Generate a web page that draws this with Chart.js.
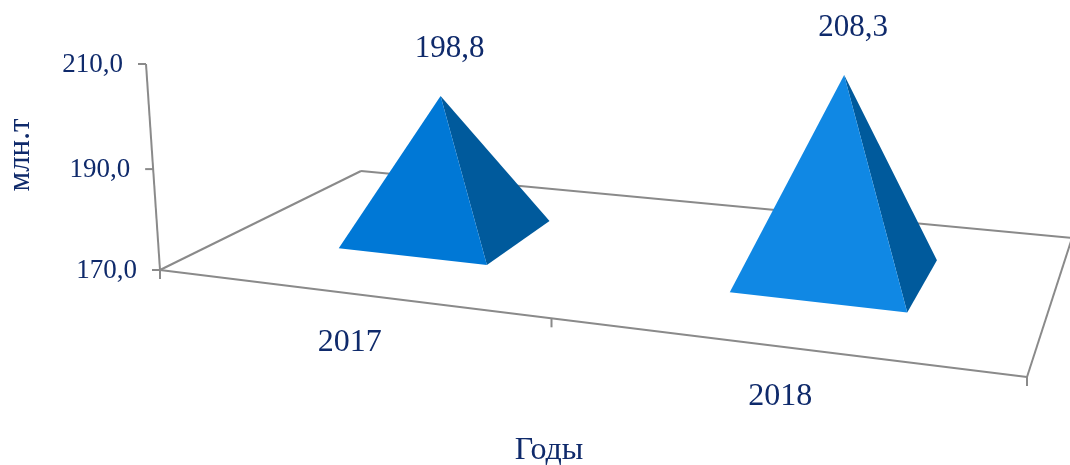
<!DOCTYPE html>
<html>
<head>
<meta charset="utf-8">
<style>
  html, body { margin: 0; padding: 0; background: #fff; }
  canvas { display: block; }
</style>
<script src="https://cdn.jsdelivr.net/npm/chart.js@4"></script>
</head>
<body>
<canvas id="chart" width="1070" height="465"></canvas>
<script>
const categories = ['2017', '2018'];
const values = [198.8, 208.3];
const axisMin = 170;
const axisMax = 210;
const axisStep = 20;
const yTitle = 'млн.т';
const xTitle = 'Годы';

const frontColors = ['#0078d6', '#1088e4'];
const sideColor = '#005a9c';
const textColor = '#0f2a6b';
const lineColor = '#8a8a8a';
const fontName = '"Liberation Serif", "Times New Roman", serif';

/* ---------------- Perspective of the 3D box ---------------- */
// screen corners of the floor and the top of the vertical axis
const floor = { p00: [160, 270], p10: [1027, 377], p11: [1072, 238], p01: [361, 171] };
const axisTop = [146, 64];
const lift = -0.04;       // how much the top shrinks towards the viewer
const baseShift = 0.0068; // the pyramid bases sit a bit right of their apex

function buildProjection() {
  const { p00, p10, p11, p01 } = floor;
  const dx1 = p10[0] - p11[0], dx2 = p01[0] - p11[0], sx = p00[0] - p10[0] + p11[0] - p01[0];
  const dy1 = p10[1] - p11[1], dy2 = p01[1] - p11[1], sy = p00[1] - p10[1] + p11[1] - p01[1];
  const den = dx1 * dy2 - dx2 * dy1;
  const g = (sx * dy2 - dx2 * sy) / den;
  const h = (dx1 * sy - sx * dy1) / den;
  const px = axisTop[0] * (1 + lift) - p00[0];
  const py = axisTop[1] * (1 + lift) - p00[1];
  // u along the x axis, v into the depth, z up, all from 0 to 1
  return (u, v, z) => {
    const w = 1 + g * u + h * v + lift * z;
    return [
      ((p10[0] - p00[0] + g * p10[0]) * u + (p01[0] - p00[0] + h * p01[0]) * v + p00[0] + px * z) / w,
      ((p10[1] - p00[1] + g * p10[1]) * u + (p01[1] - p00[1] + h * p01[1]) * v + p00[1] + py * z) / w
    ];
  };
}
const project = buildProjection();

function segment(ctx, a, b) {
  ctx.beginPath();
  ctx.moveTo(a[0], a[1]);
  ctx.lineTo(b[0], b[1]);
  ctx.stroke();
}

function face(ctx, color, points) {
  ctx.fillStyle = color;
  ctx.beginPath();
  points.forEach((p, i) => i ? ctx.lineTo(p[0], p[1]) : ctx.moveTo(p[0], p[1]));
  ctx.closePath();
  ctx.fill();
}

function label(ctx, text, x, y, size, align) {
  ctx.font = size + 'px ' + fontName;
  ctx.fillStyle = textColor;
  ctx.textAlign = align || 'center';
  ctx.textBaseline = 'middle';
  ctx.fillText(text, x, y);
}

const comma = v => v.toFixed(1).replace('.', ',');

/* ---------------- Draws axes and pyramids from the chart scales ---------------- */
const box3d = {
  id: 'box3d',
  afterDatasetsDraw(chart) {
    const { ctx, chartArea: area, scales } = chart;
    const toU = x => (x - area.left) / (area.right - area.left);
    const toZ = y => (area.bottom - y) / (area.bottom - area.top);

    ctx.save();
    // floor and axes
    ctx.strokeStyle = lineColor;
    ctx.lineWidth = 2;
    segment(ctx, project(0, 0, 0), project(0, 0, 1));
    segment(ctx, project(0, 0, 0), project(1, 0, 0));
    segment(ctx, project(0, 0, 0), project(0, 1, 0));
    segment(ctx, project(0, 1, 0), project(1, 1, 0));
    segment(ctx, project(1, 0, 0), project(1, 1, 0));

    // y ticks and labels
    scales.y.ticks.forEach(t => {
      const p = project(0, 0, toZ(scales.y.getPixelForValue(t.value)));
      segment(ctx, p, [p[0] - 8, p[1]]);
      label(ctx, comma(t.value), p[0] - 23, p[1] + 1, 27, 'right');
    });

    // x ticks between categories
    [0, 0.5, 1].forEach(u => {
      const p = project(u, 0, 0);
      segment(ctx, p, [p[0], p[1] + 9]);
    });

    // x labels
    categories.forEach((c, i) => {
      const p = project(toU(scales.x.getPixelForValue(i)), 0, 0);
      label(ctx, c, p[0] + 3, p[1] + 50, 32);
    });

    // pyramids
    chart.getDatasetMeta(0).data.forEach((bar, i) => {
      const u = toU(bar.x);
      const du = bar.width / 2 / (area.right - area.left);
      const dv = du * 2;
      const apex = project(u, 0.5, toZ(bar.y));
      const a = project(u + baseShift - du, 0.5 - dv, 0);
      const b = project(u + baseShift + du, 0.5 - dv, 0);
      const c = project(u + baseShift + du, 0.5 + dv, 0);
      face(ctx, sideColor, [b, c, apex]);
      face(ctx, frontColors[i], [a, b, apex]);
      label(ctx, comma(values[i]), apex[0] + 9, apex[1] - 47, 31);
    });

    // axis titles
    label(ctx, xTitle, 549, 451, 32);
    ctx.translate(21, 155);
    ctx.rotate(-Math.PI / 2);
    label(ctx, yTitle, 0, 0, 31);
    ctx.restore();
  }
};

new Chart(document.getElementById('chart'), {
  type: 'bar',
  data: {
    labels: categories,
    datasets: [{
      data: values,
      backgroundColor: 'transparent',
      borderWidth: 0,
      barPercentage: 1,
      categoryPercentage: 0.4
    }]
  },
  options: {
    responsive: false,
    animation: false,
    devicePixelRatio: 1,
    layout: { padding: { left: 160, right: 43, top: 63, bottom: 195 } },
    plugins: { legend: { display: false }, tooltip: { enabled: false } },
    scales: {
      x: { display: false },
      y: { display: false, min: axisMin, max: axisMax, ticks: { stepSize: axisStep } }
    }
  },
  plugins: [box3d]
});
</script>
</body>
</html>
